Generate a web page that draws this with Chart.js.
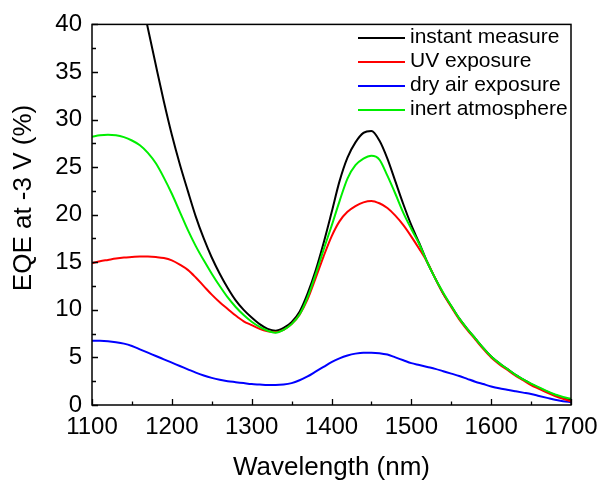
<!DOCTYPE html>
<html>
<head>
<meta charset="utf-8">
<script src="https://cdn.jsdelivr.net/npm/chart.js@4.4.1/dist/chart.umd.min.js"></script>
<style>
  html, body { margin: 0; padding: 0; background: #fff; }
  #wrap { width: 601px; height: 483px; }
</style>
</head>
<body>
<div id="wrap"><canvas id="eqeChart" width="601" height="483"></canvas></div>
<script>
const FONT = "'Liberation Sans', Arial, sans-serif";

// wavelength in nm
const wavelengths = [
  1100, 1110, 1120, 1130, 1140, 1150, 1160, 1170, 1180, 1190,
  1200, 1210, 1220, 1230, 1240, 1250, 1260, 1270, 1280, 1290,
  1300, 1310, 1320, 1330, 1340, 1350, 1360, 1370, 1380, 1390,
  1400, 1410, 1420, 1430, 1440, 1450, 1460, 1470, 1480, 1490,
  1500, 1510, 1520, 1530, 1540, 1550, 1560, 1570, 1580, 1590,
  1600, 1610, 1620, 1630, 1640, 1650, 1660, 1670, 1680, 1690,
  1700
];

// EQE (%) per condition
const instantMeasure = [
  75.5, 69, 63, 57.5, 52.5, 47.9, 43.6, 39.6, 35.7, 31.9,
  28.4, 25.3, 22.5, 19.8, 17.5, 15.5, 13.8, 12.3, 11.0, 10.0,
  9.2, 8.5, 8.0, 7.8, 8.1, 8.7, 9.8, 11.7, 14.1, 17.0,
  20.2, 23.5, 26.0, 27.6, 28.6, 28.8, 27.8, 25.9, 23.5, 21.1,
  18.9, 17.0, 15.0, 13.3, 11.7, 10.4, 9.1, 8.0, 7.0, 6.0,
  5.1, 4.4, 3.8, 3.2, 2.7, 2.2, 1.8, 1.4, 1.05, 0.75,
  0.5
];
const uvExposure = [
  14.9, 15.1, 15.25, 15.4, 15.5, 15.55, 15.6, 15.6, 15.55, 15.45,
  15.2, 14.75, 14.2, 13.4, 12.5, 11.6, 10.8, 10.1, 9.4, 8.8,
  8.4, 8.0, 7.75, 7.65, 7.9, 8.5, 9.5, 11.1, 13.3, 15.6,
  17.7, 19.3, 20.3, 20.9, 21.3, 21.45, 21.2, 20.7, 19.9, 18.9,
  17.7, 16.4, 15.0, 13.3, 11.7, 10.3, 9.0, 7.9, 6.9, 5.9,
  5.0, 4.3, 3.7, 3.1, 2.6, 2.1, 1.7, 1.3, 0.95, 0.65,
  0.4
];
const dryAirExposure = [
  6.75, 6.75, 6.7, 6.6, 6.45, 6.2, 5.85, 5.5, 5.15, 4.8,
  4.45, 4.1, 3.75, 3.4, 3.1, 2.85, 2.65, 2.5, 2.4, 2.3,
  2.2, 2.15, 2.1, 2.1, 2.15, 2.3, 2.6, 3.0, 3.5, 4.0,
  4.5, 4.9, 5.2, 5.4, 5.5, 5.5, 5.45, 5.3, 5.0, 4.7,
  4.4, 4.2, 4.0, 3.8, 3.55, 3.3, 3.05, 2.75, 2.45, 2.2,
  1.95, 1.75, 1.6, 1.45, 1.3, 1.15, 0.95, 0.75, 0.55, 0.4,
  0.3
];
const inertAtmosphere = [
  28.2, 28.35, 28.4, 28.35, 28.15, 27.8, 27.3, 26.5, 25.4, 23.9,
  22.2, 20.3, 18.4, 16.7, 15.2, 13.8, 12.5, 11.3, 10.3, 9.45,
  8.75, 8.2, 7.8, 7.6, 7.9, 8.5, 9.5, 11.3, 13.7, 16.3,
  18.8, 21.4, 23.8, 25.2, 25.9, 26.2, 25.8, 24.1, 22.2, 20.2,
  18.5, 16.9, 15.0, 13.3, 11.8, 10.4, 9.1, 8.0, 7.0, 6.0,
  5.1, 4.4, 3.8, 3.2, 2.7, 2.25, 1.85, 1.45, 1.1, 0.85,
  0.65
];

const seriesLabels = ['instant measure', 'UV exposure', 'dry air exposure', 'inert atmosphere'];
const seriesColors = ['#000000', '#ff0000', '#0000ff', '#00ee00'];
const seriesValues = [instantMeasure, uvExposure, dryAirExposure, inertAtmosphere];
const drawOrder = [2, 1, 3, 0];

const yTitle = 'EQE at -3 V (%)';

function toPoints(values) {
  return wavelengths.map((w, i) => ({ x: w, y: values[i] }));
}

// box around the plot + inward ticks (major and minor)
const frameTicks = {
  id: 'frameTicks',
  afterDatasetsDraw(chart) {
    const { ctx, chartArea: a, scales } = chart;
    ctx.save();
    ctx.strokeStyle = '#000';
    ctx.lineWidth = 1.3;
    ctx.beginPath();

    const xt = scales.x.ticks.map(t => t.value);
    xt.forEach((v, i) => {
      const px = Math.round(scales.x.getPixelForValue(v)) + 0.5;
      ctx.moveTo(px, a.bottom); ctx.lineTo(px, a.bottom - 6);
      if (i < xt.length - 1) {
        const mx = Math.round(scales.x.getPixelForValue((v + xt[i + 1]) / 2)) + 0.5;
        ctx.moveTo(mx, a.bottom); ctx.lineTo(mx, a.bottom - 3.5);
      }
    });

    const yt = scales.y.ticks.map(t => t.value);
    yt.forEach((v, i) => {
      const py = Math.round(scales.y.getPixelForValue(v)) + 0.5;
      ctx.moveTo(a.left, py); ctx.lineTo(a.left + 6, py);
      if (i < yt.length - 1) {
        const my = Math.round(scales.y.getPixelForValue((v + yt[i + 1]) / 2)) + 0.5;
        ctx.moveTo(a.left, my); ctx.lineTo(a.left + 4, my);
      }
    });
    ctx.stroke();

    ctx.lineWidth = 1.5;
    ctx.strokeRect(a.left, a.top, a.right - a.left, a.bottom - a.top);
    ctx.restore();
  }
};

// legend in the top-right corner, line samples + labels
const lineLegend = {
  id: 'lineLegend',
  afterDraw(chart) {
    const { ctx } = chart;
    ctx.save();
    ctx.font = `21px ${FONT}`;
    ctx.textBaseline = 'middle';
    ctx.textAlign = 'left';
    chart.data.datasets.forEach((ds, i) => {
      const y = 38 + i * 24;
      ctx.strokeStyle = ds.borderColor;
      ctx.lineWidth = 2;
      ctx.beginPath();
      ctx.moveTo(358, y);
      ctx.lineTo(405, y);
      ctx.stroke();
      ctx.fillStyle = '#000';
      ctx.fillText(ds.label, 410, y - 1);
    });

    // y axis title
    ctx.translate(24, 198);
    ctx.rotate(-Math.PI / 2);
    ctx.font = `26px ${FONT}`;
    ctx.textAlign = 'center';
    ctx.fillText(yTitle, 0, 0);
    ctx.restore();
  }
};

new Chart(document.getElementById('eqeChart'), {
  type: 'line',
  data: {
    datasets: seriesLabels.map((label, i) => ({
      label: label,
      data: toPoints(seriesValues[i]),
      borderColor: seriesColors[i],
      backgroundColor: seriesColors[i],
      borderWidth: 2,
      pointRadius: 0,
      fill: false,
      cubicInterpolationMode: 'monotone',
      order: drawOrder[i]
    }))
  },
  options: {
    responsive: false,
    animation: false,
    events: [],
    layout: { padding: { top: 21, right: 30, left: 0, bottom: 0 } },
    plugins: {
      legend: { display: false },
      tooltip: { enabled: false }
    },
    scales: {
      x: {
        type: 'linear',
        min: 1100,
        max: 1700,
        grid: { display: false, drawTicks: false, tickLength: 0 },
        border: { display: false },
        ticks: {
          stepSize: 100,
          color: '#000',
          padding: 8,
          maxRotation: 0,
          font: { family: FONT, size: 24 },
          callback: v => String(v)
        },
        title: {
          display: true,
          text: 'Wavelength (nm)',
          color: '#000',
          padding: { top: 0, bottom: 0 },
          font: { family: FONT, size: 26 }
        },
        afterFit: s => {
          s.height = 78;
          s.paddingLeft = 0;
          s.paddingRight = 0;
        }
      },
      y: {
        min: 0,
        max: 40,
        grid: { display: false, drawTicks: false, tickLength: 0 },
        border: { display: false },
        ticks: {
          stepSize: 5,
          color: '#000',
          padding: 10,
          font: { family: FONT, size: 24 },
          callback: v => String(v)
        },
        afterFit: s => { s.width = 92; }
      }
    }
  },
  plugins: [frameTicks, lineLegend]
});
</script>
</body>
</html>
